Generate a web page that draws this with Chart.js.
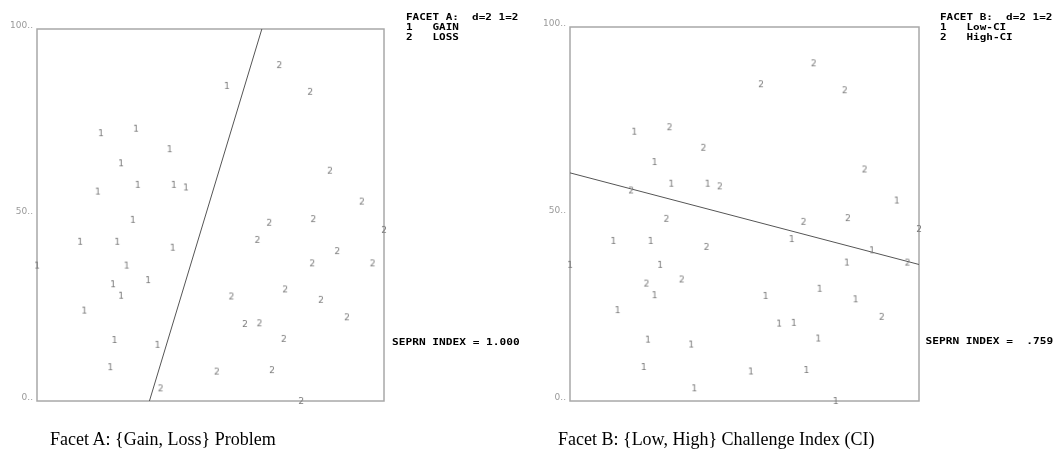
<!DOCTYPE html>
<html><head><meta charset="utf-8">
<script src="https://cdn.jsdelivr.net/npm/chart.js@4"></script>
<style>
html,body{margin:0;padding:0;background:#fff;width:1056px;height:454px;overflow:hidden;}
.wrap{position:absolute;top:0;width:528px;height:454px;}
.cap{position:absolute;top:430px;font-family:'Liberation Serif','Times New Roman',serif;font-size:18px;line-height:18px;color:#000;white-space:nowrap;}
</style></head><body>
<div class="wrap" style="left:0"><canvas id="cA" width="528" height="454"></canvas></div>
<div class="wrap" style="left:528px"><canvas id="cB" width="528" height="454"></canvas></div>
<div class="cap" style="left:50px">Facet A: {Gain, Loss} Problem</div>
<div class="cap" style="left:558px">Facet B: {Low, High} Challenge Index (CI)</div>
<script>
// ---- data ----
const xValues = [69.8,54.7,78.7,18.4,28.5,38.2,24.2,84.4,17.5,29.0,39.4,42.9,93.6,27.6,66.9,79.6,100,12.4,23.1,39.1,63.5,86.5,0,25.8,79.3,96.7,21.9,32.0,24.2,71.5,56.0,81.8,13.6,59.9,64.1,89.3,22.3,34.7,71.1,21.1,51.8,67.7,35.6,76.1];
const yValues = [90.3,84.7,83.1,72.0,73.2,67.7,63.9,61.9,56.3,58.1,58.1,57.4,53.6,48.7,47.9,48.9,46.0,42.8,42.8,41.2,43.3,40.3,36.4,36.4,37.0,37.0,31.4,32.5,28.3,30.0,28.1,27.2,24.3,20.7,20.9,22.5,16.4,15.1,16.7,9.1,7.9,8.3,3.4,0];
const groupsA = [2,1,2,1,1,1,1,2,1,1,1,1,2,1,2,2,2,1,1,1,2,2,1,1,2,2,1,1,1,2,2,2,1,2,2,2,1,1,2,1,2,2,2,2];
const groupsB = [2,2,2,1,2,2,1,2,2,1,1,2,1,2,2,2,2,1,1,2,1,1,1,1,1,2,2,2,1,1,1,1,1,1,1,2,1,1,1,1,1,1,1,1];
const lineAx = [32.4, 64.8];
const lineAy = [0, 100];
const lineBx = [0, 100];
const lineBy = [61.0, 36.5];
const yTickValues = [0, 50, 100];
const yTickLabels = ['0..', '50..', '100..'];
const legendA = ['FACET A:  d=2 1=2', '1   GAIN', '2   LOSS'];
const legendB = ['FACET B:  d=2 1=2', '1   Low-CI', '2   High-CI'];
const sepA = 'SEPRN INDEX = 1.000';
const sepB = 'SEPRN INDEX =  .759';

// ---- digit point styles ----
function digitImage(d) {
  const c = document.createElement('canvas');
  c.width = 10; c.height = 12;
  const g = c.getContext('2d');
  g.fillStyle = '#7a7a7a';
  g.font = '9px "DejaVu Sans", sans-serif';
  g.textAlign = 'center';
  g.textBaseline = 'middle';
  g.fillText(String(d), 5, 6.5);
  return c;
}
const digitStyles = {1: digitImage(1), 2: digitImage(2)};

function pointsFor(groups, g) {
  const out = [];
  for (let i = 0; i < xValues.length; i++) if (groups[i] === g) out.push({x: xValues[i], y: yValues[i]});
  return out;
}

const framePlugin = {
  id: 'frame',
  beforeDatasetsDraw(chart) {
    const a = chart.chartArea, ctx = chart.ctx;
    ctx.save();
    ctx.strokeStyle = '#a8a8a8';
    ctx.lineWidth = 1.5;
    ctx.strokeRect(a.left, a.top, a.right - a.left, a.bottom - a.top);
    ctx.restore();
  }
};

function textPlugin(legendLines, legendX, legendY, sepText, sepX, sepY) {
  return {
    id: 'texts',
    afterDraw(chart) {
      const ctx = chart.ctx;
      ctx.save();
      ctx.fillStyle = '#000';
      ctx.font = 'bold 9px "DejaVu Sans Mono", monospace';
      ctx.textBaseline = 'middle';
      ctx.textAlign = 'left';
      legendLines.forEach((t, i) => {
        ctx.save();
        ctx.translate(legendX, legendY + i * 10);
        ctx.scale(1.22, 1);
        ctx.fillText(t, 0, 0);
        ctx.restore();
      });
      ctx.save();
      ctx.translate(sepX, sepY);
      ctx.scale(1.24, 1);
      ctx.fillText(sepText, 0, 0);
      ctx.restore();
      ctx.restore();
    }
  };
}

function makeChart(id, groups, lx, ly, yWidth, pad, texts) {
  const lineData = lx.map((x, i) => ({x: x, y: ly[i]}));
  return new Chart(document.getElementById(id), {
    type: 'scatter',
    data: {
      datasets: [
        {label: '1', data: pointsFor(groups, 1), pointStyle: digitStyles[1], pointRadius: 5, clip: false},
        {label: '2', data: pointsFor(groups, 2), pointStyle: digitStyles[2], pointRadius: 5, clip: false},
        {type: 'line', label: 'sep', data: lineData, showLine: true, borderColor: '#555', borderWidth: 1, pointRadius: 0, fill: false, clip: false}
      ]
    },
    options: {
      responsive: false,
      animation: false,
      layout: {padding: pad},
      plugins: {legend: {display: false}, tooltip: {enabled: false}},
      scales: {
        x: {type: 'linear', min: 0, max: 100, display: false},
        y: {
          type: 'linear', min: 0, max: 100,
          afterBuildTicks(scale) { scale.ticks = yTickValues.map(v => ({value: v})); },
          afterFit(scale) { scale.width = yWidth; },
          grid: {display: false, drawTicks: false},
          border: {display: false},
          ticks: {
            callback(v) { const k = yTickValues.indexOf(v); return k >= 0 ? yTickLabels[k] : ''; },
            color: '#9a9a9a',
            font: {family: '"DejaVu Sans", sans-serif', size: 9},
            padding: 4,
            labelOffset: -3
          }
        }
      }
    },
    plugins: [framePlugin, texts]
  });
}

makeChart('cA', groupsA, lineAx, lineAy, 37, {left: 0, right: 144, top: 29, bottom: 53},
  textPlugin(legendA, 406, 17.5, sepA, 392, 343));
makeChart('cB', groupsB, lineBx, lineBy, 42, {left: 0, right: 137, top: 27, bottom: 53},
  textPlugin(legendB, 412, 17.5, sepB, 397.5, 342));
</script>
</body></html>
